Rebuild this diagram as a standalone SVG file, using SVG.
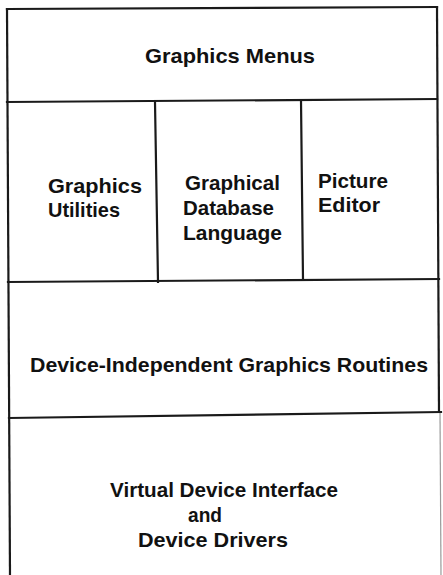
<svg xmlns="http://www.w3.org/2000/svg" width="443" height="575" viewBox="0 0 443 575">
<style>
.ln{stroke:#1a1a1a;stroke-width:2.2;fill:none;stroke-linecap:square}
.faint{stroke:#9a9a9a;stroke-width:1.2;fill:none}
.t{font-family:"Liberation Sans",Arial,Helvetica,sans-serif;font-weight:bold;font-size:21px;fill:#111}
</style>
<rect width="443" height="575" fill="#ffffff"/>
<g id="connectors">
<line class="ln" x1="7" y1="9" x2="437" y2="7"/>
<line class="ln" x1="7" y1="9" x2="10" y2="575"/>
<line class="ln" x1="437" y1="7" x2="439" y2="412"/>
<line class="faint" x1="440" y1="412" x2="441" y2="575"/>
<line class="ln" x1="7" y1="102" x2="437" y2="99"/>
<line class="ln" x1="8" y1="282" x2="439" y2="279"/>
<line class="ln" x1="9" y1="418" x2="441" y2="412"/>
<line class="ln" x1="155" y1="102" x2="158" y2="282"/>
<line class="ln" x1="301" y1="100" x2="303" y2="280"/>
</g>
<g id="graphics-menus">
<text class="t" x="145" y="63" textLength="170" lengthAdjust="spacingAndGlyphs">Graphics Menus</text>
</g>
<g id="graphics-utilities">
<text class="t" x="48" y="193" textLength="94" lengthAdjust="spacingAndGlyphs">Graphics</text>
<text class="t" x="48" y="217" textLength="72" lengthAdjust="spacingAndGlyphs">Utilities</text>
</g>
<g id="graphical-database-language">
<text class="t" x="185" y="190" textLength="95" lengthAdjust="spacingAndGlyphs">Graphical</text>
<text class="t" x="183" y="215" textLength="91" lengthAdjust="spacingAndGlyphs">Database</text>
<text class="t" x="183" y="240" textLength="99" lengthAdjust="spacingAndGlyphs">Language</text>
</g>
<g id="picture-editor">
<text class="t" x="318" y="188" textLength="70" lengthAdjust="spacingAndGlyphs">Picture</text>
<text class="t" x="318" y="212" textLength="62" lengthAdjust="spacingAndGlyphs">Editor</text>
</g>
<g id="device-independent">
<text class="t" x="30" y="372" textLength="398" lengthAdjust="spacingAndGlyphs">Device-Independent Graphics Routines</text>
</g>
<g id="virtual-device-interface">
<text class="t" x="110" y="497" textLength="228" lengthAdjust="spacingAndGlyphs">Virtual Device Interface</text>
<text class="t" x="188" y="522" textLength="34" lengthAdjust="spacingAndGlyphs">and</text>
<text class="t" x="138" y="547" textLength="150" lengthAdjust="spacingAndGlyphs">Device Drivers</text>
</g>
</svg>
